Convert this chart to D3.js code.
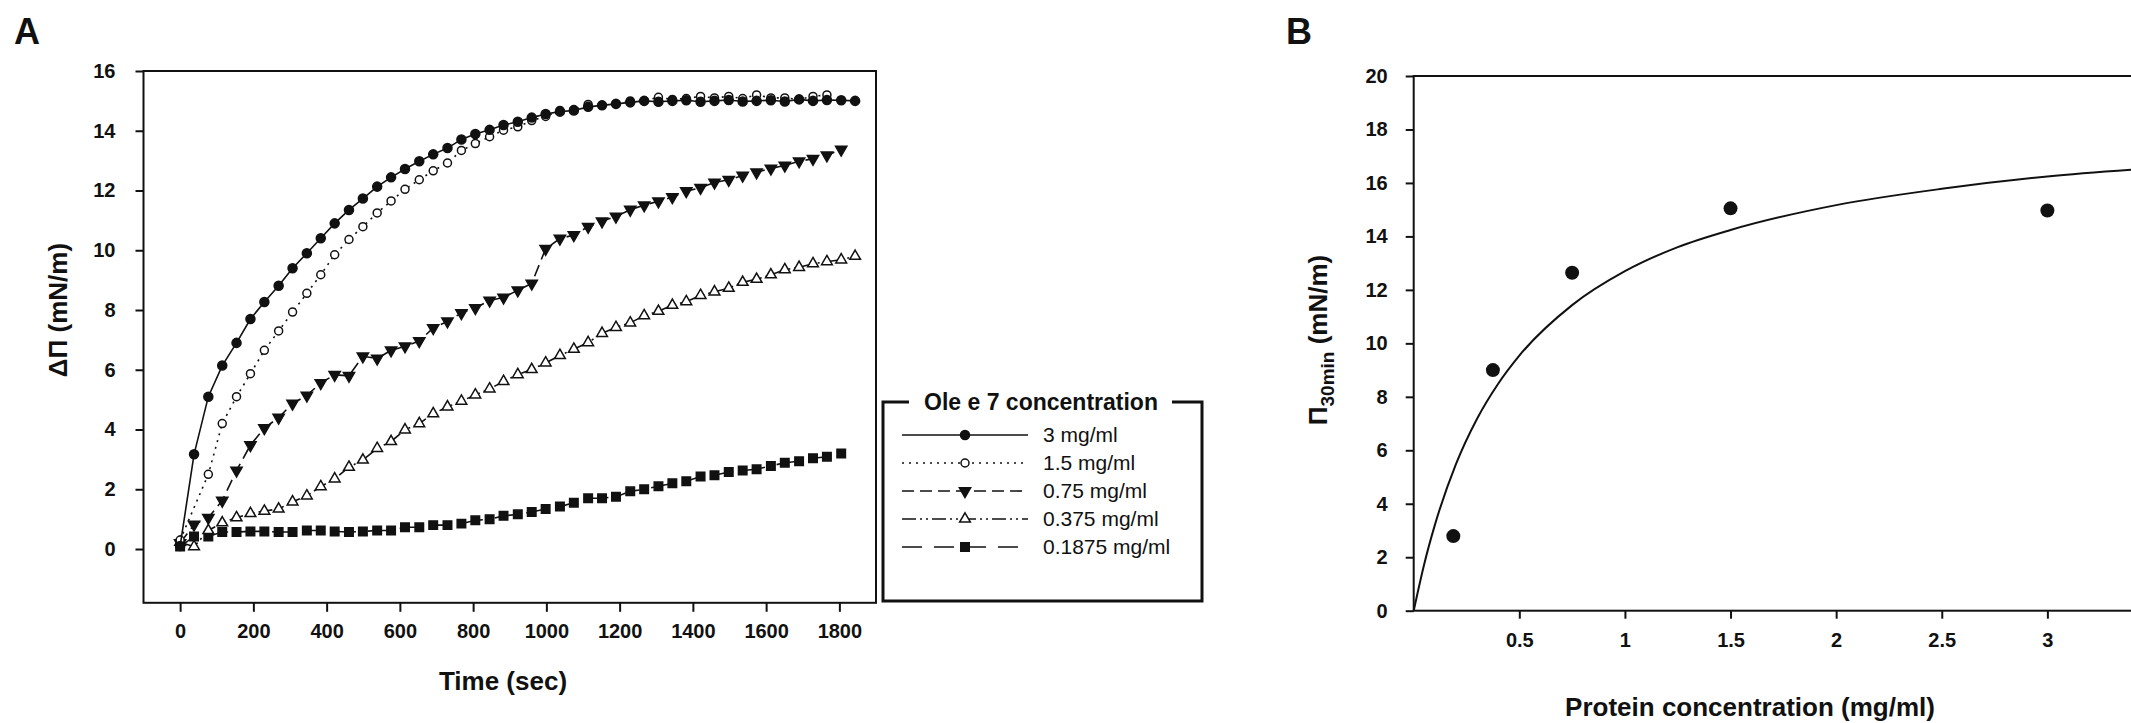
<!DOCTYPE html>
<html>
<head>
<meta charset="utf-8">
<title>Ole e 7 surface pressure</title>
<script src="https://d3js.org/d3.v7.min.js"></script>
<style>
  body { margin: 0; background: #ffffff; }
  svg { display: block; font-family: "Liberation Sans", Arial, sans-serif; }
  .tick text { font-size: 20px; font-weight: bold; fill: #111; }
  .tick line { stroke: #111; stroke-width: 2; }
  .frame { fill: none; stroke: #111; stroke-width: 2; }
  .axisTitle { font-size: 26px; font-weight: bold; fill: #111; }
  .panel { font-size: 36px; font-weight: bold; fill: #111; }
  .legText { font-size: 21px; fill: #111; }
  .legTitle { font-size: 23px; font-weight: bold; fill: #111; }
</style>
</head>
<body>
<div id="chart"></div>
<script>
// time (sec) of each reading
var times = [0, 38, 77, 115, 154, 192, 230, 269, 307, 346, 384, 422, 461, 499, 538, 576, 614,
  653, 691, 730, 768, 806, 845, 883, 922, 960, 998, 1037, 1075, 1114, 1152, 1190, 1229, 1267,
  1306, 1344, 1382, 1421, 1459, 1498, 1536, 1574, 1613, 1651, 1690, 1728, 1766, 1805, 1843];

var seriesNames = ["3 mg/ml", "1.5 mg/ml", "0.75 mg/ml", "0.375 mg/ml", "0.1875 mg/ml"];

var dp3 = [0.1, 3.17, 5.1, 6.14, 6.9, 7.7, 8.27, 8.81, 9.4, 9.9, 10.4, 10.9, 11.35, 11.73, 12.13,
  12.44, 12.72, 12.98, 13.21, 13.42, 13.71, 13.89, 14.03, 14.19, 14.3, 14.44, 14.56, 14.64, 14.68,
  14.8, 14.85, 14.9, 14.95, 15.0, 14.97, 15.0, 15.02, 14.97, 15.0, 15.03, 14.98, 15.0, 15.02,
  14.98, 15.05, 15.0, 15.03, 15.02, 15.0];
var dp15 = [0.3, null, 2.5, 4.2, 5.1, 5.87, 6.65, 7.3, 7.93, 8.56, 9.18, 9.85, 10.36, 10.79, 11.25,
  11.65, 12.04, 12.36, 12.66, 12.92, 13.34, 13.57, 13.8, 14.02, 14.13, 14.34, 14.48, 14.68, 14.71,
  14.88, 14.85, 14.9, 15.0, 15.0, 15.12, 15.05, 15.08, 15.15, 15.1, 15.15, 15.08, 15.2, 15.1,
  15.1, 15.05, 15.15, 15.2];
var dp075 = [0.2, 0.82, 1.05, 1.62, 2.63, 3.48, 4.05, 4.4, 4.87, 5.14, 5.56, 5.83, 5.8, 6.45, 6.38,
  6.65, 6.79, 6.96, 7.4, 7.62, 7.9, 8.07, 8.32, 8.42, 8.66, 8.89, 10.05, 10.39, 10.51, 10.79,
  10.97, 11.13, 11.36, 11.51, 11.64, 11.78, 11.98, 12.09, 12.27, 12.36, 12.5, 12.61, 12.74,
  12.84, 12.98, 13.06, 13.18, 13.37];
var dp0375 = [0.23, 0.08, 0.62, 0.88, 1.05, 1.19, 1.27, 1.34, 1.58, 1.78, 2.09, 2.35, 2.74, 2.98,
  3.37, 3.6, 3.99, 4.2, 4.53, 4.76, 4.95, 5.16, 5.36, 5.61, 5.84, 6.01, 6.23, 6.48, 6.69, 6.91,
  7.22, 7.42, 7.57, 7.81, 7.96, 8.16, 8.28, 8.49, 8.61, 8.73, 8.93, 9.03, 9.18, 9.35, 9.43, 9.55,
  9.62, 9.68, 9.8];
var dp01875 = [0.08, 0.42, 0.42, 0.57, 0.57, 0.59, 0.59, 0.57, 0.57, 0.62, 0.62, 0.59, 0.57, 0.59,
  0.62, 0.62, 0.73, 0.73, 0.8, 0.8, 0.85, 0.96, 1.0, 1.11, 1.16, 1.24, 1.34, 1.42, 1.55, 1.7, 1.7,
  1.75, 1.93, 2.0, 2.1, 2.2, 2.27, 2.43, 2.47, 2.58, 2.63, 2.67, 2.78, 2.89, 2.94, 3.04, 3.09, 3.2];

var xTicksA = [0, 200, 400, 600, 800, 1000, 1200, 1400, 1600, 1800];
var yTicksA = [0, 2, 4, 6, 8, 10, 12, 14, 16];

// panel B: pressure after 30 min vs concentration, plus the fitted curve
var concB = [0.1875, 0.375, 0.75, 1.5, 3];
var pi30B = [2.79, 9.0, 12.64, 15.05, 14.97];
var fitX = [0, 0.05, 0.1, 0.2, 0.3, 0.4, 0.5, 0.75, 1, 1.25, 1.5, 2, 2.5, 3, 3.5];
var fitY = [0, 1.75, 3.2, 5.48, 7.18, 8.49, 9.54, 11.43, 12.7, 13.6, 14.24, 15.17, 15.78, 16.24, 16.55];
var xTicksB = [0.5, 1, 1.5, 2, 2.5, 3];
var yTicksB = [0, 2, 4, 6, 8, 10, 12, 14, 16, 18, 20];

var W = 2131, H = 723;
var svg = d3.select("#chart").append("svg")
  .attr("width", W).attr("height", H);

var ink = "#111";

// ---------- panel A ----------
var xA = d3.scaleLinear().domain([-100, 1900]).range([143.5, 876]);
var yA = d3.scaleLinear().domain([-1.8, 16]).range([602.8, 71]);

svg.append("text").attr("class", "panel").attr("x", 14).attr("y", 44).text("A");

svg.append("g")
  .attr("transform", "translate(0," + yA(-1.8) + ")")
  .call(d3.axisBottom(xA).tickValues(xTicksA).tickSize(9).tickPadding(12).tickFormat(d3.format("d")))
  .call(function(g) { g.select(".domain").remove(); });
svg.append("g")
  .attr("transform", "translate(" + xA(-100) + ",0)")
  .call(d3.axisLeft(yA).tickValues(yTicksA).tickSize(8).tickPadding(20).tickFormat(d3.format("d")))
  .call(function(g) { g.select(".domain").remove(); });

svg.append("rect").attr("class", "frame")
  .attr("x", xA(-100)).attr("y", yA(16))
  .attr("width", xA(1900) - xA(-100)).attr("height", yA(-1.8) - yA(16));

svg.append("text").attr("class", "axisTitle")
  .attr("x", 503).attr("y", 690).attr("text-anchor", "middle").text("Time (sec)");
svg.append("text").attr("class", "axisTitle")
  .attr("transform", "translate(67,310) rotate(-90)")
  .attr("text-anchor", "middle").text("ΔΠ (mN/m)");

var styles = [
  {dash: null, sym: d3.symbolCircle, size: 64, fill: ink, rot: 0},
  {dash: "2,5", sym: d3.symbolCircle, size: 50, fill: "#fff", rot: 0},
  {dash: "12,6", sym: d3.symbolTriangle, size: 55, fill: ink, rot: 180},
  {dash: "14,4,2,4,2,4", sym: d3.symbolTriangle, size: 50, fill: "#fff", rot: 0},
  {dash: "20,12", sym: d3.symbolSquare, size: 72, fill: ink, rot: 0}
];
var allSeries = [dp3, dp15, dp075, dp0375, dp01875];

var lineA = d3.line().x(function(d) { return xA(d.t); }).y(function(d) { return yA(d.v); });

// draw low concentrations first so the top curves sit above
for (var s = allSeries.length - 1; s >= 0; s--) {
  var pts = allSeries[s].map(function(v, i) { return {t: times[i], v: v}; })
    .filter(function(d) { return d.v !== null; });
  var st = styles[s];
  var g = svg.append("g");
  g.append("path").datum(pts)
    .attr("d", lineA)
    .attr("fill", "none").attr("stroke", ink).attr("stroke-width", 1.6)
    .attr("stroke-dasharray", st.dash);
  g.selectAll("path.mk").data(pts).enter().append("path")
    .attr("class", "mk")
    .attr("d", d3.symbol().type(st.sym).size(st.size))
    .attr("transform", function(d) {
      return "translate(" + xA(d.t) + "," + yA(d.v) + ") rotate(" + st.rot + ")";
    })
    .attr("fill", st.fill).attr("stroke", ink).attr("stroke-width", 1.5);
}

// legend
var legX = 883, legY = 402, legW = 319, legH = 199;
var legend = svg.append("g");
legend.append("path")
  .attr("d", "M" + (legX + 26) + "," + legY + "H" + legX + "V" + (legY + legH) +
    "H" + (legX + legW) + "V" + legY + "H" + (legX + legW - 30))
  .attr("fill", "none").attr("stroke", ink).attr("stroke-width", 3);
legend.append("text").attr("class", "legTitle")
  .attr("x", 1041).attr("y", legY + 8).attr("text-anchor", "middle")
  .text("Ole e 7 concentration");
seriesNames.forEach(function(name, i) {
  var y = 435 + i * 28;
  var st = styles[i];
  legend.append("line")
    .attr("x1", 902).attr("x2", 1028).attr("y1", y).attr("y2", y)
    .attr("stroke", ink).attr("stroke-width", 1.6)
    .attr("stroke-dasharray", st.dash);
  legend.append("path")
    .attr("d", d3.symbol().type(st.sym).size(st.size))
    .attr("transform", "translate(965," + y + ") rotate(" + st.rot + ")")
    .attr("fill", st.fill).attr("stroke", ink).attr("stroke-width", 1.5);
  legend.append("text").attr("class", "legText")
    .attr("x", 1043).attr("y", y + 7).text(name);
});

// ---------- panel B ----------
var xB = d3.scaleLinear().domain([0, 3.5]).range([1413.7, 2153]);
var yB = d3.scaleLinear().domain([0, 20]).range([610.7, 76]);

svg.append("text").attr("class", "panel").attr("x", 1286).attr("y", 44).text("B");

svg.append("g")
  .attr("transform", "translate(0," + yB(0) + ")")
  .call(d3.axisBottom(xB).tickValues(xTicksB).tickSize(8).tickPadding(14).tickFormat(d3.format("")))
  .call(function(g) { g.select(".domain").remove(); });
svg.append("g")
  .attr("transform", "translate(" + xB(0) + ",0)")
  .call(d3.axisLeft(yB).tickValues(yTicksB).tickSize(8).tickPadding(18).tickFormat(d3.format("d")))
  .call(function(g) { g.select(".domain").remove(); });

svg.append("rect").attr("class", "frame")
  .attr("x", xB(0)).attr("y", yB(20))
  .attr("width", xB(3.5) - xB(0)).attr("height", yB(0) - yB(20));

var fitPts = fitX.map(function(x, i) { return [x, fitY[i]]; });
svg.append("path").datum(fitPts)
  .attr("d", d3.line().curve(d3.curveMonotoneX)
    .x(function(d) { return xB(d[0]); }).y(function(d) { return yB(d[1]); }))
  .attr("fill", "none").attr("stroke", ink).attr("stroke-width", 2);

svg.selectAll("circle.pt").data(concB).enter().append("circle")
  .attr("class", "pt")
  .attr("cx", function(d) { return xB(d); })
  .attr("cy", function(d, i) { return yB(pi30B[i]); })
  .attr("r", 7).attr("fill", ink);

svg.append("text").attr("class", "axisTitle")
  .attr("x", 1750).attr("y", 716).attr("text-anchor", "middle")
  .text("Protein concentration (mg/ml)");
var yLabB = svg.append("text").attr("class", "axisTitle")
  .attr("transform", "translate(1327,340) rotate(-90)")
  .attr("text-anchor", "middle");
yLabB.append("tspan").text("Π");
yLabB.append("tspan").attr("dy", 7).style("font-size", "19px").text("30min");
yLabB.append("tspan").attr("dy", -7).text(" (mN/m)");
</script>
</body>
</html>
